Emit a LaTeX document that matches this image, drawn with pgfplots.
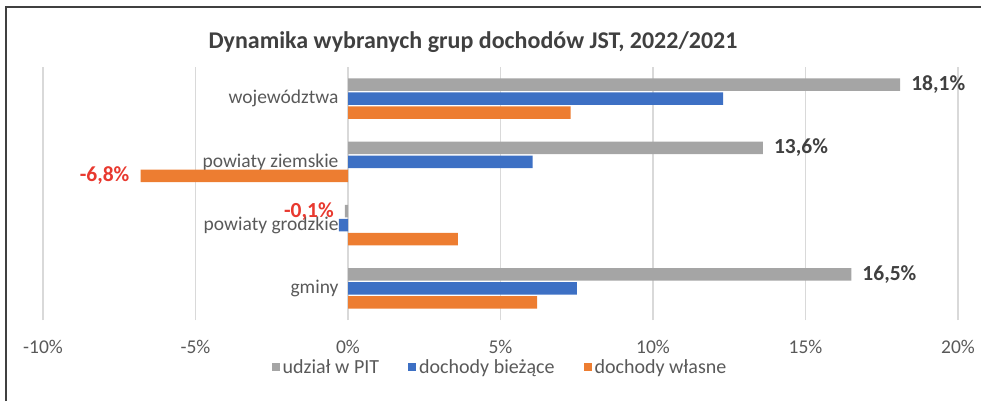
\documentclass[border=0pt]{standalone}
\usepackage{pgfplots}
\pgfplotsset{compat=1.18}
\usepackage{fontspec}
\setmainfont{Carlito}

\definecolor{pitgray}{HTML}{A5A5A5}
\definecolor{curblue}{HTML}{3D70C4}
\definecolor{ownorange}{HTML}{ED7D31}
\definecolor{txtgray}{HTML}{595959}
\definecolor{lblred}{HTML}{E8392F}
\definecolor{gridgray}{HTML}{D9D9D9}

\begin{document}
\begin{tikzpicture}[x=1pt,y=1pt]
\useasboundingbox (0,0) rectangle (981,-401);
% frame (left and top edge only)
\draw[line width=2pt, black!75] (5.5,-401) -- (5.5,-7.5) -- (981,-7.5);
% title
\node[anchor=base, font=\fontsize{24}{28}\selectfont\bfseries, text=black!75]
  at (473,-49) {Dynamika wybranych grup dochodów JST, 2022/2021};

\begin{axis}[
    at={(43pt,-320pt)}, anchor=south west,
    xbar,
    scale only axis,
    width=915pt, height=253pt,
    xmin=-10, xmax=20,
    ymin=-0.5, ymax=3.5,
    xtick={-10,-5,0,5,10,15,20},
    xticklabels={-10\%,-5\%,0\%,5\%,10\%,15\%,20\%},
    ytick={0,1,2,3},
    yticklabels={gminy,powiaty grodzkie,powiaty ziemskie,województwa},
    tick label style={font=\fontsize{19.5}{22}\selectfont, text=txtgray},
    yticklabel style={xshift=299pt},
    xticklabel style={yshift=-17pt},
    major tick length=0pt,
    tick style={draw=none},
    axis line style={draw=none},
    xmajorgrids,
    grid style={line width=1.3pt, gridgray},
    bar width=12.5pt,
    visualization depends on={ifthenelse(x<0,1,0) \as \isneg},
    every node near coord/.append style={
        font=\fontsize{21.5}{24}\selectfont\bfseries,
        text=black!75, inner xsep=11pt,
        anchor={\ifdim\isneg pt>0.5pt east\else west\fi}
    },
    legend columns=3,
    legend style={
        at={(0.5,-0.186)}, anchor=center,
        draw=none, fill=none,
        font=\fontsize{20}{22}\selectfont,
        text=txtgray,
        /tikz/every even column/.append style={column sep=26pt},
        nodes={inner sep=3pt}
    },
    legend image code/.code={\fill[#1] (0pt,-4pt) rectangle (8pt,4pt);},
]
% udzial w PIT
\addplot[fill=pitgray, draw=none, bar shift=14pt,
         nodes near coords, point meta=explicit symbolic]
    coordinates {
        (18.1,3) [18,1\%]
        (13.6,2) [13,6\%]
        (-0.1,1) [{\color{lblred}-0,1\%}]
        (16.5,0) [16,5\%]
    };
% dochody biezace
\addplot[fill=curblue, draw=none, bar shift=0pt]
    coordinates {
        (12.3,3)
        (6.05,2)
        (-0.3,1)
        (7.5,0)
    };
% dochody wlasne
\addplot[fill=ownorange, draw=none, bar shift=-14pt,
         nodes near coords, point meta=explicit symbolic]
    coordinates {
        (7.3,3) [{}]
        (-6.8,2) [{\color{lblred}-6,8\%}]
        (3.6,1) [{}]
        (6.2,0) [{}]
    };
\legend{udział w PIT, dochody bieżące, dochody własne}
\end{axis}
\end{tikzpicture}
\end{document}
